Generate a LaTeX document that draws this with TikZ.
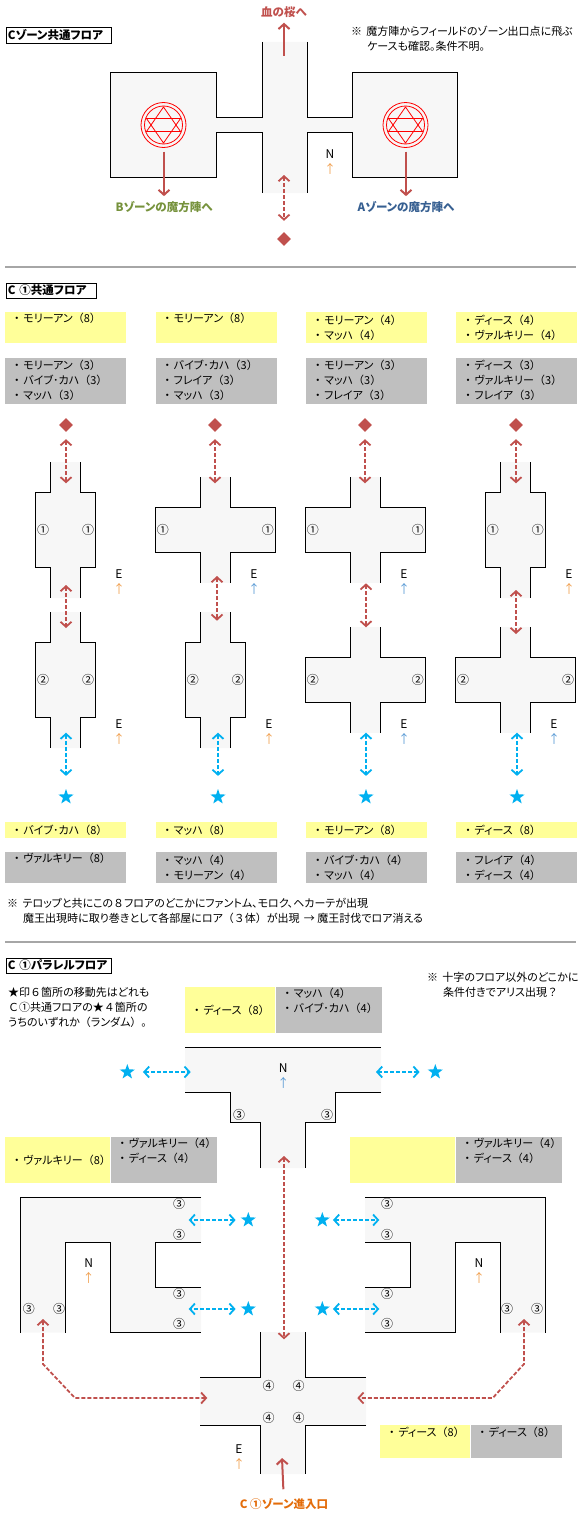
\documentclass[tikz,border=0pt]{standalone}
\usepackage{fontspec}
\setmainfont{Noto Sans CJK JP}[RawFeature=+palt]
\newfontfamily\fw{Noto Sans CJK JP}
\usetikzlibrary{arrows.meta,positioning,shapes.geometric}
\definecolor{floorgray}{HTML}{F7F7F7}
\definecolor{listyellow}{HTML}{FFFF99}
\definecolor{listgray}{HTML}{BFBFBF}
\definecolor{warpred}{HTML}{C0504D}
\definecolor{warpblue}{HTML}{00B0F0}
\definecolor{dirorange}{HTML}{F0A050}
\definecolor{dirblue}{HTML}{5B9BD5}
\definecolor{bzonecol}{HTML}{76923C}
\definecolor{azonecol}{HTML}{365F91}
\definecolor{entrycol}{HTML}{E36C0A}
\newcommand{\upo}{\textcolor{dirorange}{↑}}
\newcommand{\upb}{\textcolor{dirblue}{↑}}
\newcommand{\cnt}[1]{{\fw （}#1{\fw ）}}
\tikzset{
    basetext/.style={inner sep=0pt, font=\fontsize{11}{15}\selectfont},
    titlebox/.style={draw, anchor=north west, line width=1pt, inner sep=0pt, align=left,
        font=\fontsize{11.5}{15}\selectfont\bfseries, minimum height=15.5pt, text height=10pt, text depth=2pt},
    notetext/.style={basetext, anchor=north west, align=left},
    zonelabel/.style={basetext, font=\fontsize{11.5}{15}\selectfont\bfseries},
    dirlabel/.style={basetext, align=center, font=\fontsize{12}{15}\selectfont},
    numlabel/.style={basetext, font=\fontsize{12}{15}\selectfont},
    listbox/.style={basetext, anchor=north west, align=left, inner xsep=9pt, text width=#1},
    yellowbox/.style={listbox=#1, fill=listyellow},
    yellowbox/.default=103pt,
    graybox/.style={listbox=#1, fill=listgray},
    graybox/.default=103pt,
    wall/.style={line width=1pt},
    warp/.style={diamond, fill=warpred, inner sep=0pt, minimum size=14pt},
    starmark/.style={star, star points=5, star point ratio=2.5, fill=warpblue, inner sep=0pt, minimum size=16pt},
    redsolid/.style={-{Straight Barb[length=5pt,width=11pt]}, draw=warpred, line width=2pt},
    reddash/.style={{Straight Barb[length=5pt,width=11pt]}-{Straight Barb[length=5pt,width=11pt]},
        draw=warpred, line width=1.8pt, dash pattern=on 4pt off 2pt},
    bluedash/.style={{Straight Barb[length=5pt,width=11pt]}-{Straight Barb[length=5pt,width=11pt]},
        draw=warpblue, line width=1.8pt, dash pattern=on 4pt off 2pt},
    sectionrule/.style={draw=black!35, line width=2pt},
    pics/crossfloor/.style n args={5}{code={
        \fill[floorgray] (-15,-#3) -- (15,-#3) -- (15,-#2) -- (#1,-#2) -- (#1,#2) -- (15,#2) -- (15,#3)
            -- (-15,#3) -- (-15,#2) -- (-#1,#2) -- (-#1,-#2) -- (-15,-#2) -- cycle;
        \draw[wall] (-15,-#3) -- (-15,-#2) -- (-#1,-#2) -- (-#1,#2) -- (-15,#2) -- (-15,#3);
        \draw[wall] (15,-#3) -- (15,-#2) -- (#1,-#2) -- (#1,#2) -- (15,#2) -- (15,#3);
        \node[numlabel] (left) at (-#4,0) {#5};
        \node[numlabel] (right) at (#4,0) {#5};
    }},
    pics/narrowfloor/.style={crossfloor={30.2}{37.5}{68}{22.5}{#1}},
    pics/widefloor/.style={crossfloor={60.3}{22.5}{52.8}{52.5}{#1}},
    pics/ufloor/.style={code={
        \fill[floorgray] (-262.7,-67.7) -- (-82,-67.7) -- (-82,-22.7) -- (-127.7,-22.7) -- (-127.7,22.3) -- (-82,22.3)
            -- (-82,67.3) -- (-172.7,67.3) -- (-172.7,-22.7) -- (-217.7,-22.7) -- (-217.7,67.7) -- (-262.7,67.7) -- cycle;
        \draw[wall] (-82,-67.7) -- (-262.7,-67.7) -- (-262.7,67.7);
        \draw[wall] (-217.7,67.7) -- (-217.7,-22.7) -- (-172.7,-22.7) -- (-172.7,67.3) -- (-82,67.3);
        \draw[wall] (-82,-22.7) -- (-127.7,-22.7) -- (-127.7,22.3) -- (-82,22.3);
        \node[numlabel] (ga) at (-104,-60.7) {③};
        \node[numlabel] (gb) at (-104,-30.3) {③};
        \node[numlabel] (gc) at (-104,29) {③};
        \node[numlabel] (gd) at (-104,59.3) {③};
        \node[numlabel] (ge) at (-254,44.3) {③};
        \node[numlabel] (gf) at (-224,44.3) {③};
    }},
    pics/seal/.style={code={
        \draw[red, line width=0.8pt] (0,0) circle (22.5) (0,0) circle (19);
        \draw[red, line width=0.8pt] (0,-18) -- (17,6.5) -- (-17,6.5) -- cycle;
        \draw[red, line width=0.8pt] (0,18) -- (17,-6.5) -- (-17,-6.5) -- cycle;
    }}
}
\begin{document}
\begin{tikzpicture}[x=1pt, y=-1pt, node distance=14pt and 29pt]
\useasboundingbox (0,0) rectangle (580,1520);

% C common floor
\node[titlebox, text width=105pt] (ctitle) at (5.5,27.5) {\,Cゾーン共通フロア};
\fill[floorgray] (110.5,72.3) rectangle (216.5,177.3) (352,72.3) rectangle (457.5,177.3)
    (216.5,117.3) rectangle (352,132.3) (262,42) rectangle (307,193);
\draw[wall] (262,42) -- (262,117.3) -- (216.5,117.3) -- (216.5,72.3) -- (110.5,72.3) -- (110.5,177.3)
    -- (216.5,177.3) -- (216.5,132.3) -- (262,132.3) -- (262,193);
\draw[wall] (307,42) -- (307,117.3) -- (352,117.3) -- (352,72.3) -- (457.5,72.3) -- (457.5,177.3)
    -- (352,177.3) -- (352,132.3) -- (307,132.3) -- (307,193);
\pic at (163.5,125) {seal};
\pic at (405.5,125) {seal};
\coordinate (bseal) at (164,151.5);
\coordinate (aseal) at (406,151.5);
\coordinate (cherrystart) at (284,56);
\coordinate (cfloorend) at (284,175);
\node[zonelabel, text=warpred] (cherry) at (284,12) {血の桜へ};
\node[zonelabel, text=bzonecol] (bzone) at (164,207) {Bゾーンの魔方陣へ};
\node[zonelabel, text=azonecol] (azone) at (406,207) {Aゾーンの魔方陣へ};
\node[warp] (ctop) at (284,239) {};
\node[dirlabel] (cdir) at (330,162) {N\\\upo};
\node[notetext] (cnote) at (351,25.5) {※ \,魔方陣からフィールドのゾーン出口点に飛ぶ\\\hspace{16pt}ケースも確認。条件不明。};
\draw[redsolid, shorten >=5pt] (cherrystart) -- (cherry);
\draw[redsolid, shorten >=5pt] (bseal) -- (bzone);
\draw[redsolid, shorten >=5pt] (aseal) -- (azone);
\draw[reddash, shorten >=11pt] (cfloorend) -- (ctop);

\draw[sectionrule] (5,267) -- (576,267);

% C1 common floor
\node[titlebox, text width=90pt] (ftitle) at (5.5,282.5) {\,C ①共通フロア};
\node[yellowbox, minimum height=31pt] (ya) at (5,312) {・ モリーアン\cnt{8}\\\strut};
\node[yellowbox, minimum height=31pt, right=of ya] (yb) {・ モリーアン\cnt{8}\\\strut};
\node[yellowbox, minimum height=31pt, right=of yb] (yc) {・ モリーアン\cnt{4}\\・ マッハ\cnt{4}};
\node[yellowbox, minimum height=31pt, right=of yc] (yd) {・ ディース\cnt{4}\\・ ヴァルキリー\cnt{4}};
\node[graybox, minimum height=46pt, below=of ya] (ga) {・ モリーアン\cnt{3}\\・ バイブ･カハ\cnt{3}\\・ マッハ\cnt{3}};
\node[graybox, minimum height=46pt, below=of yb] (gb) {・ バイブ･カハ\cnt{3}\\・ フレイア\cnt{3}\\・ マッハ\cnt{3}};
\node[graybox, minimum height=46pt, below=of yc] (gc) {・ モリーアン\cnt{3}\\・ マッハ\cnt{3}\\・ フレイア\cnt{3}};
\node[graybox, minimum height=46pt, below=of yd] (gd) {・ ディース\cnt{3}\\・ ヴァルキリー\cnt{3}\\・ フレイア\cnt{3}};

\node[warp] (wa) at (66,425) {};
\node[warp] (wb) at (215,425) {};
\node[warp] (wc) at (365,425) {};
\node[warp] (wd) at (516,425) {};
\pic (fa) at (65.5,530) {narrowfloor=①};
\pic (fb) at (215.3,530) {widefloor=①};
\pic (fc) at (365.3,530) {widefloor=①};
\pic (fd) at (515.3,530) {narrowfloor=①};
\pic (sa) at (65.5,680) {narrowfloor=②};
\pic (sb) at (215.3,680) {narrowfloor=②};
\pic (sc) at (365.3,680) {widefloor=②};
\pic (sd) at (515.5,680) {widefloor=②};
\node[dirlabel] (da) at (119,582) {E\\\upo};
\node[dirlabel] (db) at (254,582) {E\\\upb};
\node[dirlabel] (dc) at (404,582) {E\\\upb};
\node[dirlabel] (dd) at (569,582) {E\\\upo};
\node[dirlabel] (ea) at (119,732) {E\\\upo};
\node[dirlabel] (eb) at (269,732) {E\\\upo};
\node[dirlabel] (ec) at (404,732) {E\\\upb};
\node[dirlabel] (ed) at (554,732) {E\\\upb};
\node[starmark] (sta) at (66,797) {};
\node[starmark] (stb) at (218,797) {};
\node[starmark] (stc) at (366,797) {};
\node[starmark] (std) at (517,797) {};

\coordinate (aa) at (66,483.3);
\coordinate (ab) at (215,483.3);
\coordinate (ac) at (365,483.3);
\coordinate (ad) at (516,483.3);
\draw[reddash, shorten <=7pt] (wa) -- (aa);
\draw[reddash, shorten <=7pt] (wb) -- (ab);
\draw[reddash, shorten <=7pt] (wc) -- (ac);
\draw[reddash, shorten <=7pt] (wd) -- (ad);
\coordinate (ma) at (66,585);
\coordinate (mb) at (66,628);
\coordinate (mc) at (217,576);
\coordinate (md) at (217,620.7);
\coordinate (me) at (366,583.3);
\coordinate (mf) at (366,627.3);
\coordinate (mg) at (516,590);
\coordinate (mh) at (516,634);
\draw[reddash] (ma) -- (mb);
\draw[reddash] (mc) -- (md);
\draw[reddash] (me) -- (mf);
\draw[reddash] (mg) -- (mh);
\coordinate (ba) at (66,732.7);
\coordinate (bb) at (218,732.7);
\coordinate (bc) at (366,732.7);
\coordinate (bd) at (517,732.7);
\draw[bluedash, shorten >=12.5pt] (ba) -- (sta);
\draw[bluedash, shorten >=12.5pt] (bb) -- (stb);
\draw[bluedash, shorten >=12.5pt] (bc) -- (stc);
\draw[bluedash, shorten >=12.5pt] (bd) -- (std);

\node[yellowbox, minimum height=15.7pt] (la) at (5,822) {・ バイブ･カハ\cnt{8}};
\node[yellowbox, minimum height=15.7pt, right=of la] (lb) {・ マッハ\cnt{8}};
\node[yellowbox, minimum height=15.7pt, right=of lb] (lc) {・ モリーアン\cnt{8}};
\node[yellowbox, minimum height=15.7pt, right=of lc] (ld) {・ ディース\cnt{8}};
\node[graybox, minimum height=31pt, below=of la] (ka) {・ ヴァルキリー\cnt{8}\\\strut};
\node[graybox, minimum height=31pt, below=of lb] (kb) {・ マッハ\cnt{4}\\・ モリーアン\cnt{4}};
\node[graybox, minimum height=31pt, below=of lc] (kc) {・ バイブ･カハ\cnt{4}\\・ マッハ\cnt{4}};
\node[graybox, minimum height=31pt, below=of ld] (kd) {・ フレイア\cnt{4}\\・ ディース\cnt{4}};
\node[notetext] (fnote) at (7,897.5) {※ \,テロップと共にこの{\fw ８}フロアのどこかにファントム、モロク、ヘカーテが出現\\\hspace{16pt}魔王出現時に取り巻きとして各部屋にロア\cnt{{\fw ３}体}が出現 \,→ 魔王討伐でロア消える};

\draw[sectionrule] (5,942) -- (576,942);

% C1 parallel floor
\node[titlebox, text width=105pt] (ptitle) at (5.5,957.5) {\,C ①パラレルフロア};
\node[notetext] (pnote) at (8,986.5) {★印{\fw ６}箇所の移動先はどれも\\{\fw Ｃ}①共通フロアの★{\fw ４}箇所の\\うちのいずれか\cnt{ランダム}{\fw 。}};
\node[notetext] (qnote) at (427,972.5) {※ \,十字のフロア以外のどこかに\\\hspace{16pt}条件付きでアリス出現{\fw ？}};
\node[yellowbox=72pt, minimum height=46pt] (ptop) at (185,987) {・~ディース\cnt{8}};
\node[graybox=88pt, minimum height=46pt, right=0pt of ptop] (ptopg) {・~マッハ\cnt{4}\\・~バイブ･カハ\cnt{4}\\\strut};
\node[yellowbox=87pt, minimum height=46pt] (pleft) at (5,1137) {・~ヴァルキリー\cnt{8}};
\node[graybox=88pt, minimum height=46pt, right=0pt of pleft] (pleftg) {・~ヴァルキリー\cnt{4}\\・~ディース\cnt{4}\\\strut};
\node[yellowbox=87pt, minimum height=46pt] (pright) at (350,1137) {};
\node[graybox=88pt, minimum height=46pt, right=0pt of pright] (prightg) {・~ヴァルキリー\cnt{4}\\・~ディース\cnt{4}\\\strut};
\node[yellowbox=72pt, minimum height=32.7pt] (pbot) at (380,1425) {・~ディース\cnt{8}\\\strut};
\node[graybox=73pt, minimum height=32.7pt, right=0pt of pbot] (pbotg) {・~ディース\cnt{8}\\\strut};

\fill[floorgray] (185,1047.3) -- (381,1047.3) -- (381,1092.3) -- (335.3,1092.3) -- (335.3,1122.3) -- (305,1122.3)
    -- (305,1168) -- (260.3,1168) -- (260.3,1122.3) -- (230.3,1122.3) -- (230.3,1092.3) -- (185,1092.3) -- cycle;
\draw[wall] (185,1047.3) -- (381,1047.3);
\draw[wall] (185,1092.3) -- (230.3,1092.3) -- (230.3,1122.3) -- (260.3,1122.3) -- (260.3,1168);
\draw[wall] (381,1092.3) -- (335.3,1092.3) -- (335.3,1122.3) -- (305,1122.3) -- (305,1168);
\node[numlabel] (ta) at (239,1114.5) {③};
\node[numlabel] (tb) at (327,1114.5) {③};
\node[dirlabel] (tdir) at (283.3,1076.5) {N\\\upb};

\pic (ul) at (283,1265) {ufloor};
\pic[xscale=-1] (ur) at (283,1265) {ufloor};
\node[dirlabel] (uld) at (88.7,1271.5) {N\\\upo};
\node[dirlabel] (urd) at (479,1271.5) {N\\\upo};

\fill[floorgray] (260.3,1332) rectangle (305.3,1474) (200,1377.3) rectangle (366,1425.3);
\draw[wall] (260.3,1332) -- (260.3,1377.3) -- (200,1377.3);
\draw[wall] (200,1425.3) -- (260.3,1425.3) -- (260.3,1474);
\draw[wall] (305.3,1332) -- (305.3,1377.3) -- (366,1377.3);
\draw[wall] (366,1425.3) -- (305.3,1425.3) -- (305.3,1474);
\node[numlabel] (xa) at (268.7,1385.5) {④};
\node[numlabel] (xb) at (298.7,1385.5) {④};
\node[numlabel] (xc) at (268.7,1417.7) {④};
\node[numlabel] (xd) at (298.7,1417.7) {④};
\node[dirlabel] (xdir) at (239,1457.5) {E\\\upo};
\node[zonelabel, text=entrycol] (entry) at (284,1504) {C ①ゾーン進入口};

\node[starmark] (pa) at (127.3,1072) {};
\node[starmark] (pb) at (435.3,1072) {};
\node[starmark] (pc) at (248.3,1220) {};
\node[starmark] (pd) at (248.3,1309) {};
\node[starmark] (pe) at (322.3,1220) {};
\node[starmark] (pf) at (322.3,1309) {};
\coordinate (qa) at (190.7,1072);
\coordinate (qb) at (376,1072);
\coordinate (qc) at (188.7,1220);
\coordinate (qd) at (188.7,1309);
\coordinate (qe) at (379.3,1220);
\coordinate (qf) at (379.3,1309);
\draw[bluedash, shorten <=11pt] (pa) -- (qa);
\draw[bluedash, shorten <=11pt] (pb) -- (qb);
\draw[bluedash, shorten <=8pt] (pc) -- (qc);
\draw[bluedash, shorten <=8pt] (pd) -- (qd);
\draw[bluedash, shorten <=6pt] (pe) -- (qe);
\draw[bluedash, shorten <=6pt] (pf) -- (qf);

\coordinate (va) at (284,1156);
\coordinate (vb) at (284,1339.3);
\draw[reddash] (va) -- (vb);
\coordinate (la1) at (43,1319);
\coordinate (la2) at (43,1364);
\coordinate (la3) at (75,1398);
\coordinate (la4) at (207.3,1398);
\draw[reddash] (la1) -- (la2) -- (la3) -- (la4);
\coordinate (ra1) at (524,1319);
\coordinate (ra2) at (524,1364);
\coordinate (ra3) at (492.7,1398);
\coordinate (ra4) at (357.3,1398);
\draw[reddash] (ra1) -- (ra2) -- (ra3) -- (ra4);
\coordinate (eh) at (282,1458);
\draw[redsolid, shorten <=9pt] (entry) -- (eh);
\end{tikzpicture}
\end{document}
